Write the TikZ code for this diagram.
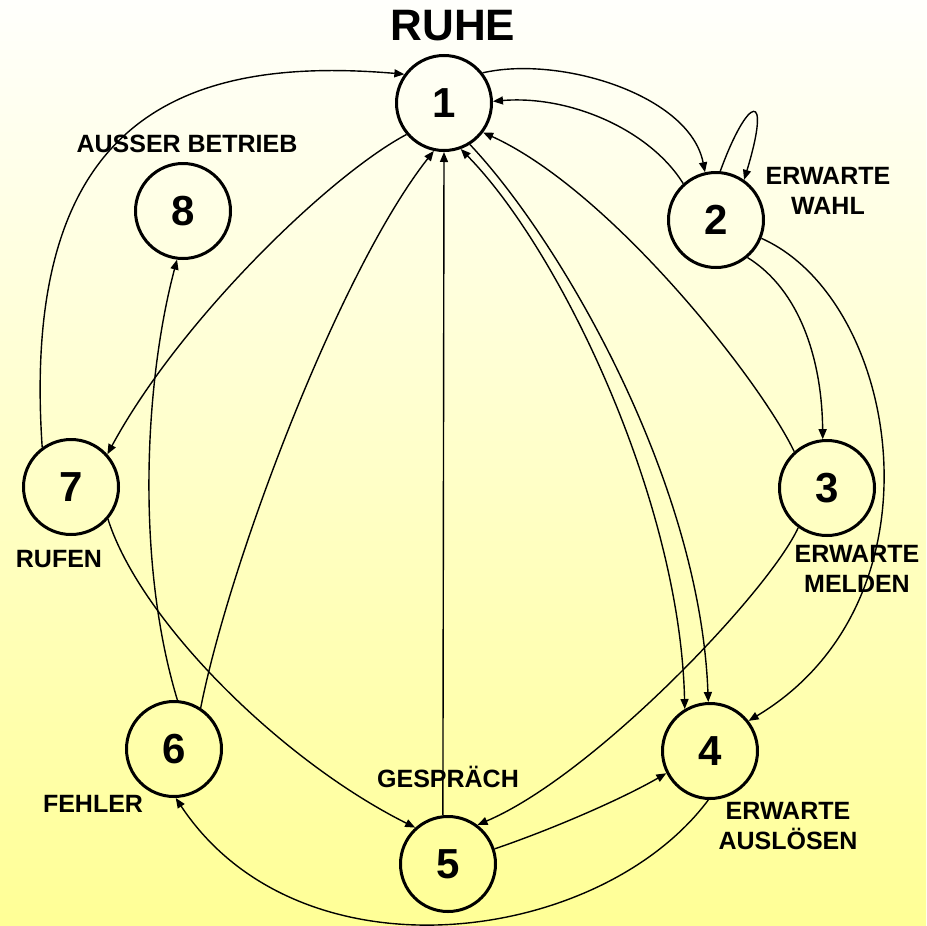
\documentclass[tikz,border=0pt]{standalone}
\usepackage{fontspec}
\setmainfont{Liberation Sans}
\usetikzlibrary{arrows.meta}
\definecolor{bgtop}{RGB}{255,255,252}
\definecolor{bgbot}{RGB}{255,255,150}
\begin{document}
\begin{tikzpicture}[x=1pt,y=-1pt,
  state/.style={circle, draw, line width=3pt, minimum size=95pt, inner sep=0pt,
    font=\fontsize{42}{42}\selectfont\bfseries},
  lbl/.style={align=center, font=\fontsize{25}{30}\selectfont\bfseries, inner sep=0pt},
  conn/.style={line width=1.4pt, -{Triangle[length=10pt,width=8pt]}},
]
\fill[top color=bgtop, bottom color=bgbot] (0,0) rectangle (926,926);
\useasboundingbox (0,0) rectangle (926,926);

% states
\node[state] (n1) at (444,103) {1};
\node[state] (n2) at (716,220) {2};
\node[state] (n3) at (827,488) {3};
\node[state] (n4) at (710,751) {4};
\node[state] (n5) at (448,864) {5};
\node[state] (n6) at (174,749) {6};
\node[state] (n7) at (71,487) {7};
\node[state] (n8) at (183,211) {8};

% labels
\node[font=\fontsize{44}{44}\selectfont\bfseries, inner sep=0pt] (ruhe) at (453,26) {RUHE};
\node[lbl] (l2) at (828,191) {ERWARTE\\WAHL};
\node[lbl] (l3) at (857,569) {ERWARTE\\MELDEN};
\node[lbl] (l4) at (788,826) {ERWARTE\\AUSLÖSEN};
\node[lbl] (l5) at (448,777) {GESPRÄCH};
\node[lbl] (l6) at (93,804) {FEHLER};
\node[lbl] (l7) at (59,559) {RUFEN};
\node[lbl] (l8) at (187,144) {AUSSER BETRIEB};

% connectors
\draw[conn] (n1.38) .. controls (560,55) and (690,95) .. (n2.103);
\draw[conn] (n2.132) .. controls (650,130) and (570,95) .. (n1.2);
\draw[conn] (n2.85) .. controls (748,95) and (772,88) .. (n2.55);
\draw[conn] (n7.126) .. controls (20,120) and (180,55) .. (n1.144);
\draw[conn] (n1.220) .. controls (330,175) and (180,320) .. (n7.42);
\draw[conn] (n6.57) .. controls (230,560) and (340,270) .. (n1.258);
\draw[conn] (n5.96) -- (n1.270);
\draw[conn, {Triangle[length=10pt,width=8pt]}-{Triangle[length=10pt,width=8pt]}] (n4.121) .. controls (680,500) and (560,250) .. (n1.290);
\draw[conn] (n1.302) .. controls (560,240) and (700,480) .. (n4.92);
\draw[conn] (n3.132) .. controls (760,380) and (610,190) .. (n1.323);
\draw[conn] (n2.310) .. controls (800,290) and (822,360) .. (n3.95);
\draw[conn] (n2.338) .. controls (900,300) and (950,600) .. (n4.38);
\draw[conn] (n3.234) .. controls (770,590) and (595,775) .. (n5.53);
\draw[conn] (n5.18) .. controls (550,830) and (620,800) .. (n4.207);
\draw[conn] (n4.268) .. controls (600,945) and (300,985) .. (n6.272);
\draw[conn] (n7.319) .. controls (140,620) and (280,760) .. (n5.132);
\draw[conn] (n6.86) .. controls (135,560) and (145,380) .. (n8.263);
\end{tikzpicture}
\end{document}
